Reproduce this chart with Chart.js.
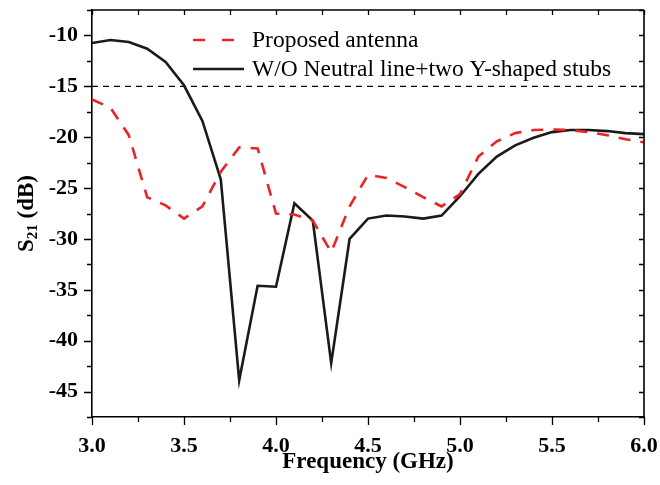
<!DOCTYPE html>
<html>
<head>
<meta charset="utf-8">
<script src="https://cdn.jsdelivr.net/npm/chart.js@4.4.1/dist/chart.umd.min.js"></script>
<style>
html,body{margin:0;padding:0;background:#fff;}
#wrap{width:660px;height:485px;position:relative;}
</style>
</head>
<body>
<div id="wrap"><canvas id="c" width="660" height="485"></canvas></div>
<script>
// ---- data ----
const freqGHz = [3.0,3.1,3.2,3.3,3.4,3.5,3.6,3.7,3.8,3.9,4.0,4.1,4.2,4.3,4.4,4.5,4.6,4.7,4.8,4.9,5.0,5.1,5.2,5.3,5.4,5.5,5.6,5.7,5.8,5.9,6.0];
const proposedS21 = [-16.3,-17.1,-19.8,-25.9,-26.7,-28.0,-26.8,-23.4,-21.0,-21.1,-27.5,-27.6,-28.2,-31.3,-26.8,-23.7,-24.0,-24.9,-25.9,-26.8,-25.6,-21.9,-20.4,-19.6,-19.3,-19.25,-19.3,-19.5,-19.8,-20.2,-20.5];
const withoutS21 = [-10.75,-10.45,-10.65,-11.3,-12.6,-14.9,-18.4,-24.15,-43.9,-34.6,-34.7,-26.5,-28.2,-42.2,-30.0,-28.0,-27.7,-27.8,-28.0,-27.7,-25.8,-23.6,-21.9,-20.8,-20.05,-19.5,-19.3,-19.3,-19.4,-19.6,-19.7];
const refLevel = -15;
const refFreq = [3.0, 6.0];
const seriesNames = ["Proposed antenna", "W/O Neutral line+two Y-shaped stubs"];
const xTitle = "Frequency (GHz)";
const yTitleMain = "S", yTitleSub = "21", yTitleTail = " (dB)";

const RED = '#ec2227';
const SERIF = '"Liberation Serif", "Times New Roman", serif';

const toXY = (xs, ys) => xs.map((x, i) => ({x: x, y: ys[i]}));
const isMajorX = v => Math.abs(v * 2 - Math.round(v * 2)) < 1e-6;
const isMajorY = v => Math.abs(v / 5 - Math.round(v / 5)) < 1e-6;

const frame = {
  id: 'frame',
  afterDraw(chart) {
    const ctx = chart.ctx;
    const a = chart.chartArea;
    const xs = chart.scales.x, ys = chart.scales.y;
    ctx.save();
    ctx.strokeStyle = '#000';
    ctx.lineWidth = 1.6;
    ctx.beginPath();
    ctx.moveTo(a.left, a.top); ctx.lineTo(a.right, a.top);
    ctx.moveTo(a.right, a.top); ctx.lineTo(a.right, a.bottom);
    ctx.stroke();
    ctx.lineWidth = 1.3;
    ctx.beginPath();
    xs.ticks.forEach(t => {
      const px = Math.round(xs.getPixelForValue(t.value)) + 0.5;
      const L = isMajorX(t.value) ? 8 : 5;
      ctx.moveTo(px, a.bottom); ctx.lineTo(px, a.bottom + L);
      ctx.moveTo(px, a.top); ctx.lineTo(px, a.top + 5);
    });
    ys.ticks.forEach(t => {
      const py = Math.round(ys.getPixelForValue(t.value)) + 0.5;
      const L = isMajorY(t.value) ? 8 : 5;
      ctx.moveTo(a.left, py); ctx.lineTo(a.left - L, py);
      ctx.moveTo(a.right, py); ctx.lineTo(a.right - 5, py);
    });
    ctx.stroke();

    // y title with subscript
    ctx.fillStyle = '#000';
    ctx.translate(27, (a.top + a.bottom) / 2);
    ctx.rotate(-Math.PI / 2);
    ctx.textBaseline = 'middle';
    const big = 'bold 23px ' + SERIF, small = 'bold 15px ' + SERIF;
    ctx.font = big; const w1 = ctx.measureText(yTitleMain).width;
    const w3 = ctx.measureText(yTitleTail).width;
    ctx.font = small; const w2 = ctx.measureText(yTitleSub).width;
    let x0 = -(w1 + w2 + w3) / 2;
    ctx.font = big; ctx.textAlign = 'left';
    ctx.fillText(yTitleMain, x0, 0);
    ctx.font = small; ctx.fillText(yTitleSub, x0 + w1, 6);
    ctx.font = big; ctx.fillText(yTitleTail, x0 + w1 + w2, 0);
    ctx.restore();

    // legend
    ctx.save();
    ctx.font = '23.5px ' + SERIF;
    ctx.textBaseline = 'middle';
    ctx.fillStyle = '#000';
    const rows = [{ds: chart.data.datasets[0], y: 41}, {ds: chart.data.datasets[1], y: 70}];
    rows.forEach(r => {
      ctx.strokeStyle = r.ds.borderColor;
      ctx.lineWidth = r.ds.borderWidth;
      ctx.setLineDash(r.ds.borderDash ? [12, 17] : []);
      ctx.beginPath();
      ctx.moveTo(193, r.y - 1); ctx.lineTo(244, r.y - 1);
      ctx.stroke();
      ctx.setLineDash([]);
      ctx.fillText(r.ds.label, 252, r.y);
    });
    ctx.restore();
  }
};

new Chart(document.getElementById('c'), {
  type: 'line',
  data: {
    datasets: [
      {label: seriesNames[0], data: toXY(freqGHz, proposedS21), borderColor: RED, borderWidth: 2.6, borderDash: [12, 10], pointRadius: 0, tension: 0, fill: false},
      {label: seriesNames[1], data: toXY(freqGHz, withoutS21), borderColor: '#1a1a1a', borderWidth: 2.6, pointRadius: 0, tension: 0, fill: false},
      {label: 'ref', data: refFreq.map(f => ({x: f, y: refLevel})), borderColor: '#000', borderWidth: 1.3, borderDash: [6, 5], pointRadius: 0, fill: false}
    ]
  },
  options: {
    responsive: false,
    animation: false,
    devicePixelRatio: 1,
    layout: {padding: {top: 10, right: 16, left: 0, bottom: 0}},
    plugins: {legend: {display: false}, tooltip: {enabled: false}},
    scales: {
      x: {
        type: 'linear', min: 3.0, max: 6.0,
        border: {display: true, color: '#000', width: 1.6},
        grid: {display: false},
        ticks: {
          stepSize: 0.25, color: '#000', padding: 8, maxRotation: 0, autoSkip: false,
          font: {family: SERIF, size: 22, weight: 'bold'},
          callback: v => isMajorX(v) ? v.toFixed(1) : ''
        },
        title: {display: true, text: xTitle, color: '#000', font: {family: SERIF, size: 23, weight: 'bold'}, padding: {top: 0, bottom: 9}},
        afterFit: s => { s.height = 68; s.paddingLeft = 0; s.paddingRight = 0; }
      },
      y: {
        type: 'linear', min: -47.5, max: -7.5,
        border: {display: true, color: '#000', width: 1.6},
        grid: {display: false},
        ticks: {
          stepSize: 2.5, color: '#000', padding: 6, autoSkip: false,
          font: {family: SERIF, size: 22, weight: 'bold'},
          callback: v => isMajorY(v) ? String(v) : ''
        },
        afterFit: s => { s.width = 92; s.paddingTop = 0; s.paddingBottom = 0; }
      }
    }
  },
  plugins: [frame]
});
</script>
</body>
</html>
